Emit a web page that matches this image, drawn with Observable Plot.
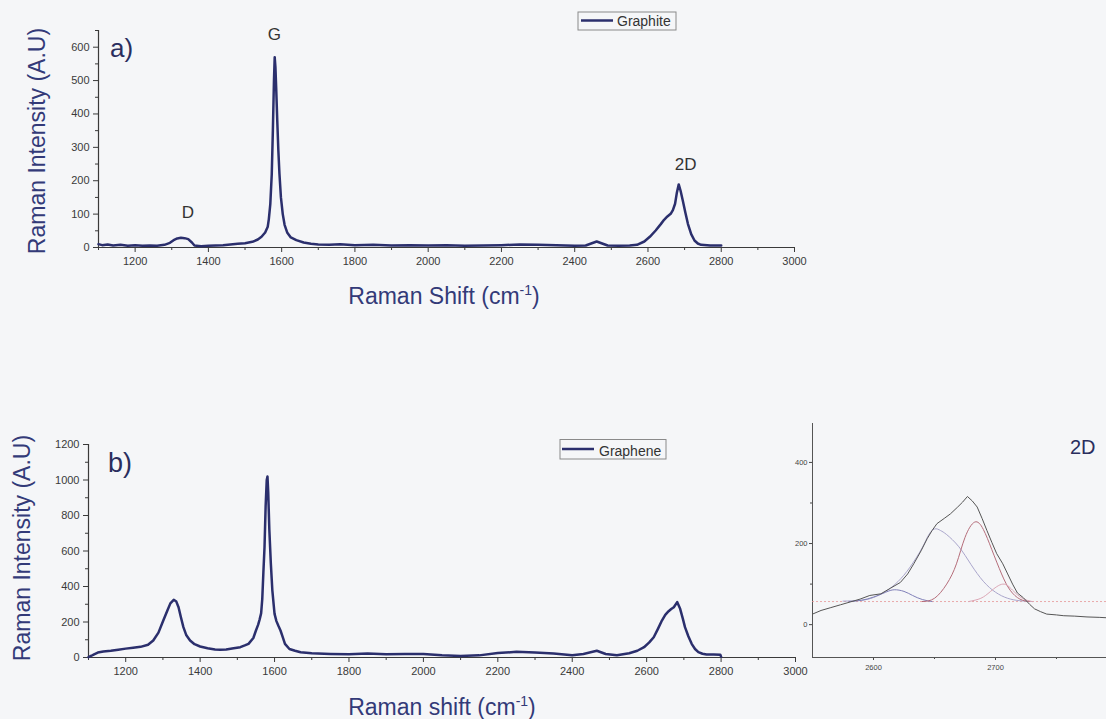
<!DOCTYPE html>
<html><head><meta charset="utf-8">
<script src="https://cdn.jsdelivr.net/npm/d3@7"></script>
<script src="https://cdn.jsdelivr.net/npm/@observablehq/plot@0.6"></script>
<style>
body{margin:0;background:#f5f6f8;}
#wrap{position:relative;width:1106px;height:719px;overflow:hidden;font-family:"Liberation Sans",Arial,sans-serif;}
.panel{position:absolute;}
</style></head><body><div id="wrap"></div>
<script>
// ---------- data ----------
const graphiteShift = [1100,1110,1125,1140,1160,1180,1200,1220,1240,1260,1280,1295,1305,1315,1325,1335,1345,1355,1362,1380,1400,1420,1440,1460,1480,1500,1520,1535,1545,1555,1562,1565,1569,1573,1576,1579,1581,1583,1585,1588,1591,1594,1598,1603,1608,1615,1625,1640,1660,1680,1700,1730,1760,1800,1850,1900,1950,2000,2050,2100,2150,2200,2250,2300,2350,2400,2430,2445,2460,2475,2490,2520,2550,2570,2590,2605,2621,2635,2644,2653,2662,2668,2674,2679,2684,2689,2695,2702,2709,2718,2727,2736,2745,2770,2800];
const graphiteIntensity = [10,7,9,6,8,5,7,5,6,5,8,14,22,27,29,28,25,15,6,4,5,6,7,9,11,13,17,24,32,45,62,85,130,220,350,500,570,540,480,380,290,220,150,100,68,45,30,22,15,11,9,8,10,7,8,6,7,6,7,5,6,7,9,8,7,5,6,12,18,12,6,5,6,8,18,32,51,70,83,93,101,112,131,165,189,170,141,105,71,40,21,12,8,6,6];

const grapheneShift = [1100,1108,1115,1125,1140,1160,1180,1200,1220,1240,1260,1274,1288,1301,1312,1320,1329,1336,1342,1348,1355,1363,1373,1385,1400,1420,1440,1454,1470,1490,1508,1520,1530,1543,1550,1556,1560,1564,1567,1570,1573,1576,1579,1581,1583,1586,1590,1594,1598,1600,1605,1610,1616,1622,1628,1640,1655,1670,1700,1750,1800,1850,1900,1950,2000,2050,2100,2150,2200,2250,2300,2350,2400,2430,2466,2490,2520,2553,2575,2593,2607,2619,2630,2641,2650,2659,2666,2673,2682,2690,2697,2703,2712,2721,2730,2739,2750,2761,2780,2798,2800];
const grapheneIntensity = [2,10,18,28,34,38,44,50,55,60,72,96,140,208,265,305,325,315,283,230,171,125,96,75,62,52,45,43,45,52,58,68,77,110,152,185,215,250,330,480,620,850,1000,1020,930,720,530,380,290,246,205,180,152,115,77,48,38,30,24,20,18,22,18,20,20,12,8,12,25,32,28,22,13,20,38,20,13,24,38,58,85,114,160,208,240,261,273,283,312,274,220,171,120,77,48,30,21,17,17,16,5];

const insetShift = [2550,2557,2565,2573,2581,2589,2597,2606,2614,2622,2628,2633,2639,2644,2648,2652,2658,2663,2669,2673,2677,2681,2685,2689,2693,2697,2701,2706,2710,2714,2718,2723,2728,2732,2737,2742,2750,2756,2765,2775,2785,2791];
const insetIntensity = [26,35,42,49,56,63,72,76,90,104,125,150,182,212,232,249,262,273,290,302,316,305,290,262,232,203,175,150,125,100,78,66,50,39,32,26,24,22,21,19,18,17];

const fitBlueShift = [2580,2590,2600,2610,2617,2625,2632,2640,2648];
const fitBlueIntensity = [57,60,68,80,86,82,72,62,57];
const fitLavenderShift = [2575,2590,2600,2610,2620,2630,2640,2645,2650,2655,2660,2670,2680,2690,2700,2710,2720,2730];
const fitLavenderIntensity = [58,60,67,82,106,142,190,220,236,232,222,192,148,107,80,65,59,57];
const fitRedShift = [2640,2650,2660,2668,2675,2683,2690,2697,2705,2712,2720,2728];
const fitRedIntensity = [57,65,100,150,215,253,235,185,125,85,63,57];
const fitPinkShift = [2678,2688,2696,2706,2714,2722,2730];
const fitPinkIntensity = [57,65,82,100,85,65,57];
const insetBaseline = [57];

const xMajorTicks = [1200,1400,1600,1800,2000,2200,2400,2600,2800,3000];
const xMinorTicks = [1100,1300,1500,1700,1900,2100,2300,2500,2700,2900];
const yMajorA = [0,100,200,300,400,500,600];
const yMinorA = [50,150,250,350,450,550,650];
const yMajorB = [0,200,400,600,800,1000,1200];
const yMinorB = [100,300,500,700,900,1100];
const insetXMajor = [2600,2700];
const insetXMinor = [2650,2750];
const insetYMajor = [0,200,400];
const insetYMinor = [100,300];

const peakLabelsA = [{label:"G", x:1580, y:639},{label:"D", x:1344, y:106},{label:"2D", x:2703, y:247}];

// ---------- helpers ----------
const tbl = (xs, ys) => xs.map((x, i) => ({x, y: ys[i]}));
const navy = "#2b2f6d";
const titleColor = "#333a78";
const fontFam = '"Liberation Sans", Arial, sans-serif';
const wrap = document.getElementById("wrap");
function place(svg, left, top, w) {
  const d = document.createElement("div");
  d.className = "panel";
  d.style.left = left + "px"; d.style.top = top + "px"; d.style.width = w + "px";
  d.appendChild(svg); wrap.appendChild(d);
  return d3.select(svg);
}
const fmt = d => String(d);
const blank = () => "";

function mainPanel(data, yDomain, yMaj, yMin, mt, mb, ml, mr, h, extra) {
  return Plot.plot({
    width: 830, height: h, marginLeft: ml, marginRight: mr, marginTop: mt, marginBottom: mb,
    x: {domain: [1100, 3000], label: null},
    y: {domain: yDomain, label: null},
    style: {background: "transparent", fontFamily: fontFam, fontSize: "11px", color: "#3a3a3a", overflow: "visible"},
    marks: [
      Plot.axisX({ticks: xMajorTicks, tickSize: 5, tickPadding: 5, tickFormat: fmt, label: null}),
      Plot.axisX({ticks: xMinorTicks, tickSize: 3, tickFormat: blank, label: null}),
      Plot.axisY({ticks: yMaj, tickSize: 5, tickPadding: 4, tickFormat: fmt, label: null}),
      Plot.axisY({ticks: yMin, tickSize: 3, tickFormat: blank, label: null}),
      Plot.ruleY([yDomain[0]], {stroke: "#3a3a3a", strokeWidth: 1.2}),
      Plot.ruleX([1100], {stroke: "#3a3a3a", strokeWidth: 1.2}),
      Plot.line(data, {x: "x", y: "y", stroke: navy, strokeWidth: 2.5}),
      ...extra
    ]
  });
}
function addText(sel, x, y, size, fill, str, anchor) {
  return sel.append("text").attr("x", x).attr("y", y).attr("font-size", size).attr("fill", fill)
    .attr("font-family", fontFam).attr("text-anchor", anchor || "start").text(str);
}

// ---------- panel a ----------
const plotA = mainPanel(tbl(graphiteShift, graphiteIntensity), [0, 650], yMajorA, yMinorA, 30, 73, 98, 36, 320,
  [Plot.text(peakLabelsA, {x: "x", y: "y", text: "label", fontSize: 17, fill: "#333"})]);
const sA = place(plotA, 0, 0, 830);
addText(sA, 110, 57, 26, "#2a2e5e", "a)");
const tA = sA.append("text").attr("x", 444).attr("y", 304).attr("text-anchor", "middle").attr("font-size", 23).attr("fill", titleColor).attr("font-family", fontFam);
tA.append("tspan").text("Raman Shift (cm");
tA.append("tspan").attr("dy", -9).attr("font-size", 14).text("-1");
tA.append("tspan").attr("dy", 9).text(")");
sA.append("text").attr("transform", "translate(45,141) rotate(-90)").attr("text-anchor", "middle").attr("font-size", 23).attr("fill", titleColor).attr("font-family", fontFam).text("Raman Intensity (A.U)");
const lgA = sA.append("g");
lgA.append("rect").attr("x", 578).attr("y", 12).attr("width", 98).attr("height", 18).attr("fill", "none").attr("stroke", "#8a8a8a").attr("stroke-width", 1);
lgA.append("line").attr("x1", 581).attr("x2", 613).attr("y1", 20.5).attr("y2", 20.5).attr("stroke", navy).attr("stroke-width", 2.5);
addText(lgA, 617, 26, 14, "#333", "Graphite");

// ---------- panel b ----------
const plotB = mainPanel(tbl(grapheneShift, grapheneIntensity), [0, 1200], yMajorB, yMinorB, 24, 62, 88, 35, 299, []);
const sB = place(plotB, 0, 420, 830);
addText(sB, 108, 52, 27, "#2a2e5e", "b)");
const tB = sB.append("text").attr("x", 442).attr("y", 295).attr("text-anchor", "middle").attr("font-size", 23).attr("fill", titleColor).attr("font-family", fontFam);
tB.append("tspan").text("Raman shift (cm");
tB.append("tspan").attr("dy", -9).attr("font-size", 14).text("-1");
tB.append("tspan").attr("dy", 9).text(")");
sB.append("text").attr("transform", "translate(30,128) rotate(-90)").attr("text-anchor", "middle").attr("font-size", 23).attr("fill", titleColor).attr("font-family", fontFam).text("Raman Intensity (A.U)");
const lgB = sB.append("g");
lgB.append("rect").attr("x", 560).attr("y", 19.5).attr("width", 106).attr("height", 19.5).attr("fill", "none").attr("stroke", "#8a8a8a").attr("stroke-width", 1);
lgB.append("line").attr("x1", 562).attr("x2", 594).attr("y1", 29).attr("y2", 29).attr("stroke", navy).attr("stroke-width", 2.5);
addText(lgB, 599, 35.5, 14, "#333", "Graphene");

// ---------- inset ----------
const plotC = Plot.plot({
  width: 326, height: 300, marginLeft: 32, marginRight: 0, marginTop: 23, marginBottom: 43,
  x: {domain: [2550, 2791], label: null},
  y: {domain: [-81, 496], label: null},
  style: {background: "transparent", fontFamily: fontFam, fontSize: "7.5px", color: "#444", overflow: "visible"},
  marks: [
    Plot.axisX({ticks: insetXMajor, tickSize: 3, tickPadding: 4, tickFormat: fmt, label: null}),
    Plot.axisX({ticks: insetXMinor, tickSize: 2, tickFormat: blank, label: null}),
    Plot.axisY({ticks: insetYMajor, tickSize: 3, tickPadding: 2, tickFormat: fmt, label: null}),
    Plot.axisY({ticks: insetYMinor, tickSize: 2, tickFormat: blank, label: null}),
    Plot.ruleY([-81], {stroke: "#555", strokeWidth: 1}),
    Plot.ruleX([2550], {stroke: "#555", strokeWidth: 1}),
    Plot.ruleY(insetBaseline, {stroke: "#e59595", strokeWidth: 0.8, strokeDasharray: "2,2"}),
    Plot.line(tbl(fitLavenderShift, fitLavenderIntensity), {x: "x", y: "y", curve: "natural", stroke: "#aaa6cc", strokeWidth: 1}),
    Plot.line(tbl(fitBlueShift, fitBlueIntensity), {x: "x", y: "y", curve: "natural", stroke: "#8080b8", strokeWidth: 1}),
    Plot.line(tbl(fitRedShift, fitRedIntensity), {x: "x", y: "y", curve: "natural", stroke: "#b56d7a", strokeWidth: 1}),
    Plot.line(tbl(fitPinkShift, fitPinkIntensity), {x: "x", y: "y", curve: "natural", stroke: "#dca7b6", strokeWidth: 1}),
    Plot.line(tbl(insetShift, insetIntensity), {x: "x", y: "y", stroke: "#555", strokeWidth: 1}),
    Plot.text(["2D"], {frameAnchor: "top-right", text: d => d, dx: -11, dy: 16, fontSize: 20, fill: "#2a2e5e", textAnchor: "end"})
  ]
});
place(plotC, 780, 400, 326);
</script></body></html>
